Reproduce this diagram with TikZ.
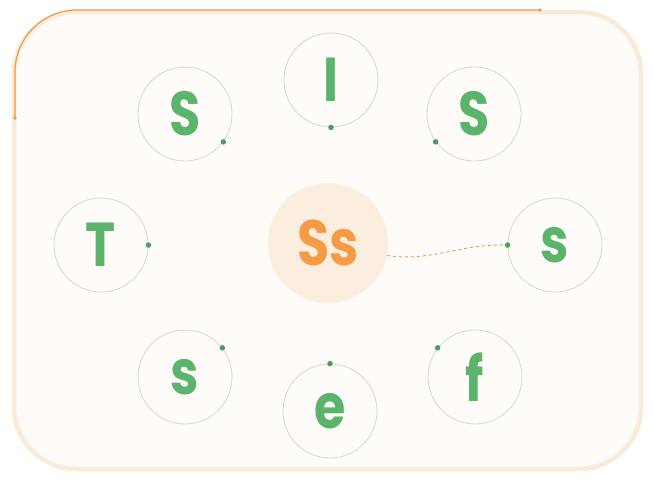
\documentclass[tikz,border=0pt]{standalone}
\usepackage{fontspec}
\newfontfamily\letterfont{Poppins}
\newcommand\slim[1]{\scalebox{0.82}[1]{#1}}
\definecolor{ringgreen}{HTML}{C6E2C7}
\definecolor{lettergreen}{HTML}{5BB46C}
\definecolor{dotgreen}{HTML}{4E9C5E}
\definecolor{framebeige}{HTML}{F9EBD6}
\definecolor{paper}{HTML}{FFFBF8}
\definecolor{peach}{HTML}{FCEEDE}
\definecolor{ssorange}{HTML}{F59A45}
\definecolor{lineorange}{HTML}{EC9A45}

\begin{document}
\begin{tikzpicture}[x=1pt,y=-1pt,
  ring/.style={circle,draw=ringgreen,line width=0.8pt,minimum size=94pt,inner sep=0pt,
    text=lettergreen,font=\letterfont\bfseries\fontsize{62}{62}\selectfont},
  knob/.style={circle,fill=dotgreen,inner sep=0pt,minimum size=5.5pt}]
\useasboundingbox (0,0) rectangle (653,479);
\fill[white] (0,0) rectangle (653,479);
% frame
\draw[framebeige,line width=4.5pt,fill=paper,rounded corners=62pt] (14,12) rectangle (641,469);
\draw[lineorange,line width=1.2pt,rounded corners=62pt] (15,118) -- (15,10) -- (540,10);
\fill[lineorange] (15,118) circle (1.8pt) (540,10) circle (1.8pt);
% centre
\node[circle,fill=peach,minimum size=120pt,inner sep=0pt,text=ssorange,
  font=\letterfont\bfseries\fontsize{64}{64}\selectfont] (ss) at (328,243) {\slim{Ss}};
% letters round it
\node[ring] (sa) at (185,114) {\slim{S}};
\node[ring] (ii) at (331,80) {\slim{I}};
\node[ring] (sb) at (474,114) {\slim{S}};
\node[ring] (tt) at (101,245) {\slim{T}};
\node[ring] (sc) at (555,245) {\slim{s}};
\node[ring] (sd) at (185,377) {\slim{s}};
\node[ring] (ee) at (330,411) {\slim{e}};
\node[ring] (ff) at (475,377) {\slim{f}};
% dots on the rings
\node[knob] (da) at (sa.-36) {};
\node[knob] (di) at (ii.-90) {};
\node[knob] (db) at (sb.-144) {};
\node[knob] (dt) at (tt.0) {};
\node[knob] (dc) at (sc.180) {};
\node[knob] (dd) at (sd.38) {};
\node[knob] (de) at (ee.90) {};
\node[knob] (df) at (ff.142) {};
\draw[lineorange,dash pattern=on 3pt off 3pt,line width=0.9pt]
  (ss.-12) .. controls (430,262) and (460,244) .. (dc);
\end{tikzpicture}
\end{document}
